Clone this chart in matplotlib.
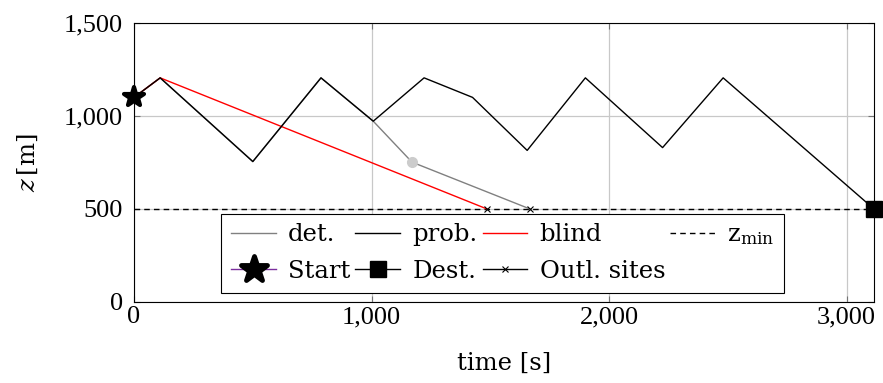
import matplotlib
matplotlib.use("Agg")
import matplotlib.pyplot as plt
from matplotlib.lines import Line2D
from matplotlib.markers import MarkerStyle
from matplotlib.ticker import FuncFormatter

plt.rcParams["font.family"] = ["DejaVu Serif"]
plt.rcParams["mathtext.fontset"] = "dejavuserif"

# Flight altitude profiles
prob_t = [0, 110, 500, 787, 1007, 1221, 1425, 1655, 1900, 2225, 2480, 3115]
prob_z = [1100, 1205, 755, 1205, 972, 1205, 1100, 815, 1205, 830, 1205, 500]

det_t = [0, 110, 500, 787, 1007, 1170, 1667]
det_z = [1100, 1205, 755, 1205, 972, 752, 500]

blind_t = [0, 110, 1486]
blind_z = [1100, 1205, 500]

det_switch_t = [1170]
det_switch_z = [752]

start_t, start_z = [0], [1100]
dest_t, dest_z = [3115], [500]
outl_t = [1486, 1667]
outl_z = [500, 500]

z_min = 500

x_ticks = [0, 1000, 2000, 3000]
y_ticks = [0, 500, 1000, 1500]

fig = plt.figure(figsize=(8.83, 3.83), dpi=100)
ax = fig.add_axes([0.1518, 0.2115, 0.8380, 0.7285])

grid_col = "#c8c8c8"
ax.set_axisbelow(True)
ax.grid(True, color=grid_col, linewidth=0.9)

fs_tick = 19
fs = 17.5
lw = 1.0
star = MarkerStyle("*", joinstyle="round")

ax.axhline(z_min, color="black", linestyle=(0, (4, 3)), linewidth=lw, zorder=2)
ax.plot(det_t, det_z, color="0.5", linewidth=lw, zorder=3)
ax.plot(det_switch_t, det_switch_z, linestyle="none", marker="o",
        markersize=7, color="#cccccc", zorder=3)
ax.plot(blind_t, blind_z, color="red", linewidth=lw, zorder=3)
ax.plot(prob_t, prob_z, color="black", linewidth=lw, zorder=4)
ax.plot(outl_t, outl_z, linestyle="none", marker="x", markersize=5,
        color="black", markeredgewidth=0.8, zorder=5)
ax.plot(start_t, start_z, linestyle="none", marker=star, markersize=15,
        color="black", markeredgewidth=3.0, clip_on=False, zorder=6)
ax.plot(dest_t, dest_z, linestyle="none", marker="s", markersize=11,
        color="black", clip_on=False, zorder=6)

ax.set_xlim(0, dest_t[0])
ax.set_ylim(0, 1500)
ax.set_xticks(x_ticks)
ax.set_yticks(y_ticks)
fmt = FuncFormatter(lambda v, p: f"{int(v):,}")
ax.xaxis.set_major_formatter(fmt)
ax.yaxis.set_major_formatter(fmt)
ax.tick_params(direction="in", length=4, width=0.8, color="0.45",
               top=True, right=True, labelsize=fs_tick)
ax.tick_params(axis="x", pad=3)
ax.tick_params(axis="y", pad=8)
for lab in ax.get_xticklabels() + ax.get_yticklabels():
    lab.set_fontfamily("Liberation Serif")
for s in ax.spines.values():
    s.set_linewidth(0.8)

ax.set_xlabel("time [s]", fontsize=fs, labelpad=17)
ax.set_ylabel(r"$z\,$[m]", fontsize=fs, labelpad=17)

h_det = Line2D([], [], color="0.5", linewidth=lw)
h_prob = Line2D([], [], color="black", linewidth=lw)
h_blind = Line2D([], [], color="red", linewidth=lw)
h_zmin = Line2D([], [], color="black", linewidth=lw, linestyle=(0, (4, 3)))
h_start = Line2D([], [], color="#7b2f9e", linewidth=lw, marker=star,
                 markersize=19, markerfacecolor="black", markeredgecolor="black",
                 markeredgewidth=3.5)
h_dest = Line2D([], [], color="black", linewidth=lw, marker="s", markersize=11)
h_outl = Line2D([], [], color="black", linewidth=lw, marker="x", markersize=5,
                markeredgewidth=0.8)

handles = [h_det, h_start, h_prob, h_dest, h_blind, h_outl, h_zmin]
labels = ["det.", "Start", "prob.", "Dest.", "blind", "Outl. sites",
          r"$\mathrm{z}_{\mathrm{min}}$"]
leg = ax.legend(handles, labels, ncol=4, loc="lower left",
                bbox_to_anchor=(0.118, 0.034), fontsize=fs, frameon=True,
                fancybox=False, edgecolor="black", framealpha=1,
                handlelength=1.85, handletextpad=0.5, columnspacing=0.2,
                labelspacing=0.55, borderpad=0.4, borderaxespad=0)
leg.get_frame().set_linewidth(0.8)
leg.set_zorder(10)

fig.savefig("out.png", dpi=100)
